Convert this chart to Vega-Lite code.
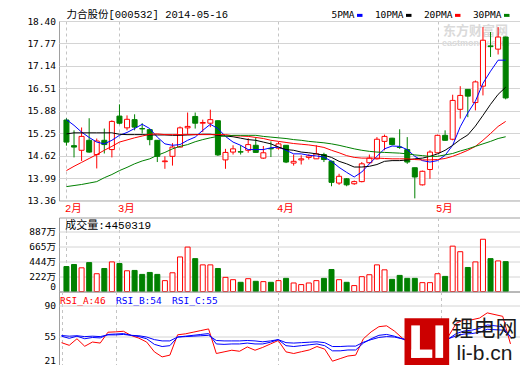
{
"$schema": "https://vega.github.io/schema/vega-lite/v6.json",
"autosize": {"type": "pad"},
"padding": {"left": 0, "top": 9, "right": 0, "bottom": 0},
"background": "#ffffff",
"datasets": {"k": [
{"i":0,"d":"2014-02-20","o":15.62,"h":15.67,"l":14.90,"c":15.00,"v":372,"m5":15.63,"m10":15.23,"m20":14.20,"m30":13.75,"ra":47.5,"rb":55,"rc":55.8},
{"i":1,"d":"2014-02-21","o":14.90,"h":15.33,"l":14.57,"c":14.86,"v":402,"m5":15.47,"m10":15.26,"m20":14.32,"m30":13.78,"ra":44.4,"rb":52.5,"rc":55},
{"i":2,"d":"2014-02-24","o":14.77,"h":15.41,"l":14.47,"c":15.16,"v":353,"m5":15.28,"m10":15.26,"m20":14.43,"m30":13.81,"ra":52,"rb":55,"rc":55.5},
{"i":3,"d":"2014-02-25","o":15.05,"h":15.67,"l":14.70,"c":14.72,"v":431,"m5":15.13,"m10":15.26,"m20":14.54,"m30":13.85,"ra":43.3,"rb":52,"rc":54.5},
{"i":4,"d":"2014-02-26","o":14.65,"h":15.10,"l":14.26,"c":15.03,"v":265,"m5":15.00,"m10":15.26,"m20":14.65,"m30":13.89,"ra":48.2,"rb":53.5,"rc":55},
{"i":5,"d":"2014-02-27","o":15.05,"h":15.38,"l":14.68,"c":14.93,"v":343,"m5":14.95,"m10":15.26,"m20":14.77,"m30":14.00,"ra":47,"rb":53,"rc":54.5},
{"i":6,"d":"2014-02-28","o":14.79,"h":15.61,"l":14.57,"c":15.58,"v":441,"m5":15.05,"m10":15.26,"m20":14.88,"m30":14.09,"ra":59.6,"rb":57,"rc":56.5},
{"i":7,"d":"2014-03-03","o":15.73,"h":16.06,"l":15.50,"c":15.53,"v":417,"m5":15.19,"m10":15.22,"m20":15.00,"m30":14.20,"ra":60,"rb":57.5,"rc":56.5},
{"i":8,"d":"2014-03-04","o":15.40,"h":15.75,"l":15.33,"c":15.64,"v":309,"m5":15.27,"m10":15.21,"m20":15.06,"m30":14.29,"ra":60.7,"rb":58,"rc":57},
{"i":9,"d":"2014-03-05","o":15.63,"h":15.78,"l":15.33,"c":15.42,"v":314,"m5":15.38,"m10":15.21,"m20":15.12,"m30":14.39,"ra":55.8,"rb":56,"rc":56},
{"i":10,"d":"2014-03-06","o":15.38,"h":15.53,"l":15.24,"c":15.37,"v":255,"m5":15.50,"m10":15.21,"m20":15.17,"m30":14.47,"ra":52.7,"rb":54.5,"rc":55.5},
{"i":11,"d":"2014-03-07","o":15.35,"h":15.36,"l":14.91,"c":15.07,"v":284,"m5":15.38,"m10":15.20,"m20":15.22,"m30":14.53,"ra":48.2,"rb":52,"rc":54},
{"i":12,"d":"2014-03-10","o":15.05,"h":15.05,"l":14.44,"c":14.60,"v":255,"m5":15.14,"m10":15.20,"m20":15.23,"m30":14.63,"ra":36.8,"rb":45.5,"rc":51},
{"i":13,"d":"2014-03-11","o":14.45,"h":14.60,"l":14.25,"c":14.47,"v":162,"m5":14.95,"m10":15.20,"m20":15.21,"m30":14.71,"ra":31,"rb":43,"rc":49.5},
{"i":14,"d":"2014-03-12","o":14.60,"h":14.97,"l":14.34,"c":14.86,"v":279,"m5":14.91,"m10":15.19,"m20":15.21,"m30":14.81,"ra":33,"rb":44,"rc":49.5},
{"i":15,"d":"2014-03-13","o":14.86,"h":15.44,"l":14.85,"c":15.40,"v":515,"m5":14.93,"m10":15.19,"m20":15.21,"m30":14.88,"ra":56.6,"rb":54,"rc":54},
{"i":16,"d":"2014-03-14","o":15.40,"h":15.83,"l":15.21,"c":15.44,"v":662,"m5":15.05,"m10":15.20,"m20":15.21,"m30":14.93,"ra":57.7,"rb":55,"rc":54.5},
{"i":17,"d":"2014-03-17","o":15.72,"h":15.83,"l":15.38,"c":15.53,"v":490,"m5":15.14,"m10":15.21,"m20":15.21,"m30":15.01,"ra":59.6,"rb":56,"rc":55},
{"i":18,"d":"2014-03-18","o":15.53,"h":15.63,"l":15.28,"c":15.55,"v":397,"m5":15.33,"m10":15.22,"m20":15.21,"m30":15.07,"ra":61.5,"rb":57,"rc":55.5},
{"i":19,"d":"2014-03-19","o":15.53,"h":15.91,"l":15.42,"c":15.63,"v":397,"m5":15.50,"m10":15.22,"m20":15.21,"m30":15.12,"ra":63.4,"rb":58,"rc":56},
{"i":20,"d":"2014-03-20","o":15.60,"h":15.61,"l":14.61,"c":14.64,"v":343,"m5":15.38,"m10":15.19,"m20":15.21,"m30":15.16,"ra":34.9,"rb":46,"rc":50},
{"i":21,"d":"2014-03-21","o":14.50,"h":14.81,"l":14.25,"c":14.71,"v":211,"m5":15.16,"m10":15.17,"m20":15.21,"m30":15.17,"ra":36.8,"rb":45.5,"rc":49.5},
{"i":22,"d":"2014-03-24","o":14.72,"h":14.91,"l":14.65,"c":14.81,"v":176,"m5":15.00,"m10":15.15,"m20":15.18,"m30":15.19,"ra":38.7,"rb":46,"rc":49.5},
{"i":23,"d":"2014-03-25","o":14.73,"h":14.91,"l":14.65,"c":14.72,"v":137,"m5":14.91,"m10":15.11,"m20":15.17,"m30":15.19,"ra":37.5,"rb":46,"rc":49.5},
{"i":24,"d":"2014-03-26","o":14.77,"h":15.11,"l":14.70,"c":14.93,"v":191,"m5":14.79,"m10":15.07,"m20":15.16,"m30":15.19,"ra":42.5,"rb":47,"rc":50},
{"i":25,"d":"2014-03-27","o":14.91,"h":15.14,"l":14.70,"c":14.71,"v":152,"m5":14.79,"m10":15.05,"m20":15.13,"m30":15.19,"ra":38.7,"rb":46,"rc":49.5},
{"i":26,"d":"2014-03-28","o":14.55,"h":14.89,"l":14.53,"c":14.70,"v":147,"m5":14.79,"m10":15.00,"m20":15.10,"m30":15.16,"ra":42,"rb":46,"rc":48.5},
{"i":27,"d":"2014-03-31","o":14.82,"h":15.02,"l":14.58,"c":14.81,"v":137,"m5":14.84,"m10":14.95,"m20":15.05,"m30":15.14,"ra":46,"rb":48,"rc":49.5},
{"i":28,"d":"2014-04-01","o":14.83,"h":15.00,"l":14.79,"c":14.95,"v":162,"m5":14.86,"m10":14.86,"m20":15.02,"m30":15.12,"ra":50,"rb":51,"rc":51},
{"i":29,"d":"2014-04-02","o":14.91,"h":14.91,"l":14.41,"c":14.44,"v":196,"m5":14.77,"m10":14.79,"m20":14.99,"m30":15.10,"ra":36.8,"rb":44,"rc":47.5},
{"i":30,"d":"2014-04-03","o":14.41,"h":14.65,"l":14.34,"c":14.46,"v":127,"m5":14.67,"m10":14.77,"m20":14.96,"m30":15.07,"ra":34.9,"rb":43,"rc":47},
{"i":31,"d":"2014-04-04","o":14.50,"h":14.63,"l":14.37,"c":14.53,"v":103,"m5":14.67,"m10":14.72,"m20":14.94,"m30":15.05,"ra":37,"rb":44,"rc":47.5},
{"i":32,"d":"2014-04-08","o":14.57,"h":14.66,"l":14.51,"c":14.61,"v":127,"m5":14.63,"m10":14.70,"m20":14.92,"m30":15.02,"ra":39,"rb":45,"rc":48},
{"i":33,"d":"2014-04-09","o":14.53,"h":14.91,"l":14.53,"c":14.67,"v":162,"m5":14.61,"m10":14.67,"m20":14.89,"m30":15.00,"ra":43,"rb":46,"rc":48.5},
{"i":34,"d":"2014-04-10","o":14.65,"h":14.70,"l":14.44,"c":14.51,"v":196,"m5":14.58,"m10":14.63,"m20":14.85,"m30":14.98,"ra":40,"rb":44,"rc":47.5},
{"i":35,"d":"2014-04-11","o":14.46,"h":14.48,"l":13.76,"c":13.87,"v":328,"m5":14.46,"m10":14.57,"m20":14.77,"m30":14.95,"ra":26,"rb":38,"rc":43},
{"i":36,"d":"2014-04-14","o":13.85,"h":14.11,"l":13.80,"c":14.04,"v":176,"m5":14.29,"m10":14.46,"m20":14.70,"m30":14.91,"ra":29,"rb":38,"rc":43},
{"i":37,"d":"2014-04-15","o":13.97,"h":13.99,"l":13.76,"c":13.80,"v":137,"m5":14.15,"m10":14.39,"m20":14.62,"m30":14.86,"ra":32,"rb":39,"rc":43.5},
{"i":38,"d":"2014-04-16","o":13.83,"h":13.92,"l":13.80,"c":13.89,"v":88,"m5":14.02,"m10":14.30,"m20":14.57,"m30":14.81,"ra":33,"rb":39,"rc":43.5},
{"i":39,"d":"2014-04-17","o":13.89,"h":14.44,"l":13.87,"c":14.39,"v":221,"m5":14.16,"m10":14.30,"m20":14.55,"m30":14.77,"ra":52,"rb":47,"rc":48},
{"i":40,"d":"2014-04-18","o":14.42,"h":14.65,"l":14.39,"c":14.55,"v":250,"m5":14.39,"m10":14.32,"m20":14.55,"m30":14.74,"ra":60,"rb":52,"rc":51},
{"i":41,"d":"2014-04-21","o":14.53,"h":15.14,"l":14.51,"c":15.08,"v":397,"m5":14.60,"m10":14.37,"m20":14.55,"m30":14.72,"ra":66,"rb":56,"rc":53.5},
{"i":42,"d":"2014-04-22","o":15.02,"h":15.21,"l":14.77,"c":15.16,"v":323,"m5":14.81,"m10":14.46,"m20":14.54,"m30":14.71,"ra":67,"rb":57,"rc":54.5},
{"i":43,"d":"2014-04-23","o":15.11,"h":15.12,"l":14.91,"c":14.93,"v":181,"m5":14.89,"m10":14.48,"m20":14.53,"m30":14.70,"ra":61,"rb":55,"rc":54},
{"i":44,"d":"2014-04-24","o":14.86,"h":15.36,"l":14.81,"c":14.85,"v":240,"m5":14.88,"m10":14.48,"m20":14.53,"m30":14.69,"ra":53,"rb":52,"rc":52},
{"i":45,"d":"2014-04-25","o":14.79,"h":15.14,"l":14.39,"c":14.44,"v":196,"m5":14.79,"m10":14.50,"m20":14.53,"m30":14.67,"ra":46,"rb":49,"rc":50.5},
{"i":46,"d":"2014-04-28","o":14.28,"h":14.28,"l":13.42,"c":14.02,"v":196,"m5":14.60,"m10":14.53,"m20":14.51,"m30":14.64,"ra":34,"rb":43,"rc":47},
{"i":47,"d":"2014-04-29","o":13.80,"h":14.20,"l":13.78,"c":14.18,"v":132,"m5":14.48,"m10":14.55,"m20":14.50,"m30":14.62,"ra":35,"rb":43,"rc":47},
{"i":48,"d":"2014-04-30","o":14.23,"h":14.77,"l":13.97,"c":14.72,"v":132,"m5":14.44,"m10":14.60,"m20":14.50,"m30":14.60,"ra":45,"rb":47,"rc":49},
{"i":49,"d":"2014-05-05","o":14.70,"h":15.21,"l":14.70,"c":15.19,"v":265,"m5":14.48,"m10":14.67,"m20":14.51,"m30":14.60,"ra":55,"rb":52,"rc":52},
{"i":50,"d":"2014-05-06","o":15.19,"h":15.33,"l":15.04,"c":15.05,"v":225,"m5":14.63,"m10":14.77,"m20":14.54,"m30":14.64,"ra":55,"rb":52,"rc":52},
{"i":51,"d":"2014-05-07","o":15.08,"h":16.33,"l":15.05,"c":16.17,"v":676,"m5":14.91,"m10":14.91,"m20":14.60,"m30":14.68,"ra":70,"rb":58,"rc":55.5},
{"i":52,"d":"2014-05-08","o":15.92,"h":16.57,"l":15.66,"c":16.31,"v":593,"m5":15.43,"m10":15.07,"m20":14.68,"m30":14.75,"ra":74,"rb":61,"rc":57.5},
{"i":53,"d":"2014-05-09","o":16.48,"h":16.48,"l":15.70,"c":16.29,"v":358,"m5":15.82,"m10":15.20,"m20":14.77,"m30":14.81,"ra":74,"rb":62,"rc":58},
{"i":54,"d":"2014-05-12","o":16.11,"h":16.73,"l":15.89,"c":16.69,"v":441,"m5":16.15,"m10":15.45,"m20":14.88,"m30":14.88,"ra":76,"rb":64,"rc":59.5},
{"i":55,"d":"2014-05-13","o":16.57,"h":18.23,"l":16.31,"c":17.86,"v":779,"m5":16.65,"m10":15.75,"m20":15.05,"m30":14.95,"ra":82,"rb":68,"rc":63},
{"i":56,"d":"2014-05-14","o":17.70,"h":18.09,"l":17.39,"c":17.68,"v":490,"m5":16.99,"m10":16.06,"m20":15.24,"m30":15.02,"ra":80,"rb":67,"rc":62.5},
{"i":57,"d":"2014-05-15","o":17.61,"h":18.23,"l":17.46,"c":17.95,"v":456,"m5":17.30,"m10":16.34,"m20":15.44,"m30":15.10,"ra":78,"rb":66,"rc":62},
{"i":58,"d":"2014-05-16","o":17.95,"h":17.96,"l":16.20,"c":16.24,"v":445,"m5":17.30,"m10":16.54,"m20":15.58,"m30":15.15,"ra":46,"rb":54,"rc":55}
]},
"config": {
  "view": {"stroke": "#a0a0a0", "strokeWidth": 1},
  "axis": {"labelFont": "DejaVu Sans Mono, Noto Sans CJK SC", "labelFontSize": 9.5, "labelColor": "#000000", "ticks": false, "domain": false, "gridColor": "#d4d4d4", "gridWidth": 1, "labelOverlap": false},
  "axisY": {"minExtent": 58.5, "maxExtent": 58.5, "labelPadding": 3.5},
  "legend": {"padding": 0}
},
"bounds": "flush",
"spacing": 16.5,
"resolve": {"scale": {"x": "independent", "y": "independent", "color": "independent"}, "legend": {"color": "independent"}},
"vconcat": [
{
  "width": 461, "height": 179.5,
  "resolve": {"scale": {"x": "shared", "y": "shared"}, "axis": {"x": "independent", "y": "independent"}},
  "layer": [
    {"data": {"values": [{"t": "东方财富网"}]},
     "mark": {"type": "text", "font": "Noto Sans CJK SC", "fontSize": 13, "fontWeight": "bold", "color": "#dadada", "align": "center", "baseline": "middle"},
     "encoding": {"x": {"datum": 54.0, "type": "quantitative", "scale": {"domain": [-0.323, 59.23], "nice": false, "zero": false}, "axis": null}, "y": {"datum": 18.115, "type": "quantitative", "scale": {"domain": [13.36, 18.40], "nice": false, "zero": false}, "axis": null}, "text": {"field": "t"}}},
    {"data": {"values": [{"t": "eastmoney.com"}]},
     "mark": {"type": "text", "font": "Liberation Sans", "fontSize": 9, "fontWeight": "bold", "color": "#dadada", "align": "center", "baseline": "middle"},
     "encoding": {"x": {"datum": 54.05, "type": "quantitative", "axis": null}, "y": {"datum": 17.79, "type": "quantitative", "axis": null}, "text": {"field": "t"}}},
    {"data": {"name": "k"},
     "mark": {"type": "rule", "strokeWidth": 1},
     "encoding": {
       "x": {"field": "i", "type": "quantitative",
         "axis": {"title": null, "values": [0, 7, 28, 49], "grid": true, "gridDash": [3, 3], "gridColor": "#c4c4c4", "labelExpr": "datum.value == 0 ? '2月' : datum.value == 7 ? '3月' : datum.value == 28 ? '4月' : '5月'", "labelColor": "#ff0000", "labelFont": "Liberation Mono, Noto Sans CJK SC", "labelFontSize": 10.5, "labelAlign": "left", "labelBaseline": "top", "labelPadding": 3, "labelOffset": -2, "labelOverlap": false}},
       "y": {"field": "l", "type": "quantitative",
         "axis": {"title": null, "values": [13.36, 13.99, 14.62, 15.25, 15.88, 16.51, 17.14, 17.77, 18.40], "format": ".2f", "grid": true, "labelOverlap": false}},
       "y2": {"field": "h"},
       "color": {"condition": {"test": "datum.c >= datum.o", "value": "#ff0000"}, "value": "#008000"}}},
    {"data": {"name": "k"},
     "mark": {"type": "bar", "width": 5, "strokeWidth": 1},
     "encoding": {
       "x": {"field": "i", "type": "quantitative", "axis": null},
       "y": {"field": "o", "type": "quantitative", "axis": null},
       "y2": {"field": "c"},
       "fill": {"condition": {"test": "datum.c >= datum.o", "value": "#ffffff"}, "value": "#008000"},
       "stroke": {"condition": {"test": "datum.c >= datum.o", "value": "#ff0000"}, "value": "#008000"}}},
    {"data": {"name": "k"},
     "transform": [{"fold": ["m5", "m10", "m20", "m30"], "as": ["key", "val"]}],
     "mark": {"type": "line", "strokeWidth": 1},
     "encoding": {
       "x": {"field": "i", "type": "quantitative", "axis": null},
       "y": {"field": "val", "type": "quantitative", "axis": null},
       "color": {"field": "key", "type": "nominal",
         "scale": {"domain": ["m5", "m10", "m20", "m30"], "range": ["#0000ff", "#000000", "#ff0000", "#008000"]},
         "legend": {"orient": "none", "legendX": 296, "legendY": -10.5, "direction": "horizontal", "title": null,
           "symbolType": "stroke", "symbolSize": 30, "symbolStrokeWidth": 3, "labelAlign": "right", "labelOffset": -10,
           "labelFont": "DejaVu Sans Mono", "labelFontSize": 9.5, "labelColor": "#000000", "columnPadding": 5,
           "labelExpr": "datum.label == 'm5' ? '5PMA' : datum.label == 'm10' ? '10PMA' : datum.label == 'm20' ? '20PMA' : '30PMA'"}}}},
    {"data": {"values": [{"t": "力合股份[000532] 2014-05-16"}]},
     "mark": {"type": "text", "font": "Liberation Mono, Noto Sans CJK SC", "fontSize": 10.5, "color": "#000000", "align": "left", "baseline": "middle"},
     "encoding": {"x": {"datum": 0.0, "type": "quantitative", "axis": null}, "y": {"datum": 18.58, "type": "quantitative", "axis": null}, "text": {"field": "t"}}}
  ]
},
{
  "bounds": "flush",
  "spacing": 0,
  "resolve": {"scale": {"x": "independent", "y": "independent", "color": "independent"}, "legend": {"color": "independent"}},
  "vconcat": [
    {
      "width": 461, "height": 74,
      "resolve": {"scale": {"x": "shared", "y": "shared"}, "axis": {"x": "independent", "y": "independent"}},
      "layer": [
        {
          "data": {"name": "k"},
          "mark": {"type": "bar", "width": 5, "strokeWidth": 1},
          "encoding": {
            "x": {"field": "i", "type": "quantitative", "scale": {"domain": [-0.323, 59.23], "nice": false, "zero": false},
              "axis": {"title": null, "values": [0, 7, 28, 49], "grid": true, "gridDash": [3, 3], "gridColor": "#c4c4c4", "labels": false}},
            "y": {"field": "v", "type": "quantitative", "scale": {"domain": [0, 1103], "nice": false},
              "axis": {"title": null, "values": [0, 222, 444, 665, 887], "grid": true, "labelFlush": true, "labelOverlap": false, "labelExpr": "datum.value == 0 ? '0' : datum.label + '万'"}},
            "fill": {"condition": {"test": "datum.c >= datum.o", "value": "#ffffff"}, "value": "#008000"},
            "stroke": {"condition": {"test": "datum.c >= datum.o", "value": "#ff0000"}, "value": "#008000"}
          }
        },
        {
          "data": {"values": [{"t": "成交量:4450319"}]},
          "mark": {"type": "text", "font": "Liberation Mono, Noto Sans CJK SC", "fontSize": 11, "color": "#000000", "align": "left", "baseline": "middle"},
          "encoding": {"x": {"datum": -0.155, "type": "quantitative", "axis": null}, "y": {"datum": 976, "type": "quantitative", "axis": null}, "text": {"field": "t"}}
        }
      ]
    },
    {
      "width": 461, "height": 74,
      "resolve": {"scale": {"x": "shared", "y": "shared"}, "axis": {"x": "independent", "y": "independent"}},
      "layer": [
        {
          "data": {"name": "k"},
          "transform": [{"fold": ["ra", "rb", "rc"], "as": ["key", "val"]}],
          "mark": {"type": "line", "strokeWidth": 1},
          "encoding": {
            "x": {"field": "i", "type": "quantitative", "scale": {"domain": [-0.323, 59.23], "nice": false, "zero": false},
              "axis": {"title": null, "values": [0, 7, 28, 49], "grid": true, "gridDash": [3, 3], "gridColor": "#c4c4c4", "labels": false}},
            "y": {"field": "val", "type": "quantitative", "scale": {"domain": [21, 106.8], "nice": false, "zero": false},
              "axis": {"title": null, "values": [21, 55, 90], "grid": true, "labelFlush": true, "labelOverlap": false}},
            "color": {"field": "key", "type": "nominal",
              "scale": {"domain": ["ra", "rb", "rc"], "range": ["#ff0000", "#0000ff", "#0000ff"]},
              "legend": {"orient": "none", "legendX": -8.5, "legendY": 4.5, "direction": "horizontal", "title": null,
                "symbolSize": 0, "symbolStrokeWidth": 0, "symbolOpacity": 0, "labelOffset": 0, "columnPadding": -9,
                "labelFont": "DejaVu Sans Mono", "labelFontSize": 9.5,
                "labelExpr": "datum.label == 'ra' ? 'RSI_A:46' : datum.label == 'rb' ? 'RSI_B:54' : 'RSI_C:55'",
                "encode": {"labels": {"update": {"fill": {"signal": "datum.value == 'ra' ? '#ff0000' : '#0000ff'"}}}}}}
          }
        },
        {
          "data": {"values": [{"p": "box"}]},
          "mark": {"type": "rect", "color": "#cc0000"},
          "encoding": {"x": {"datum": 44.31, "type": "quantitative", "axis": null}, "x2": {"datum": 50.08}, "y": {"datum": 75.7, "type": "quantitative", "axis": null}, "y2": {"datum": 21}}
        },
        {
          "data": {"values": [{"p": "L1"}]},
          "mark": {"type": "rect", "color": "#ffffff"},
          "encoding": {"x": {"datum": 45.18, "type": "quantitative", "axis": null}, "x2": {"datum": 46.3}, "y": {"datum": 67.5, "type": "quantitative", "axis": null}, "y2": {"datum": 29.8}}
        },
        {
          "data": {"values": [{"p": "L2"}]},
          "mark": {"type": "rect", "color": "#ffffff"},
          "encoding": {"x": {"datum": 45.18, "type": "quantitative", "axis": null}, "x2": {"datum": 47.9}, "y": {"datum": 39.5, "type": "quantitative", "axis": null}, "y2": {"datum": 29.8}}
        },
        {
          "data": {"values": [{"p": "I"}]},
          "mark": {"type": "rect", "color": "#ffffff"},
          "encoding": {"x": {"datum": 48.3, "type": "quantitative", "axis": null}, "x2": {"datum": 49.3}, "y": {"datum": 67.5, "type": "quantitative", "axis": null}, "y2": {"datum": 29.8}}
        },
        {
          "data": {"values": [{"t": "锂电网"}]},
          "mark": {"type": "text", "font": "Noto Sans CJK SC", "fontSize": 22, "color": "#1a1a1a", "align": "center", "baseline": "middle"},
          "encoding": {"x": {"datum": 54.65, "type": "quantitative", "axis": null}, "y": {"datum": 63.3, "type": "quantitative", "axis": null}, "text": {"field": "t"}}
        },
        {
          "data": {"values": [{"t": "li-b.cn"}]},
          "mark": {"type": "text", "font": "Liberation Sans", "fontSize": 21, "color": "#1a1a1a", "align": "center", "baseline": "alphabetic"},
          "encoding": {"x": {"datum": 54.65, "type": "quantitative", "axis": null}, "y": {"datum": 27.0, "type": "quantitative", "axis": null}, "text": {"field": "t"}}
        }
      ]
    }
  ]
}
]
}
